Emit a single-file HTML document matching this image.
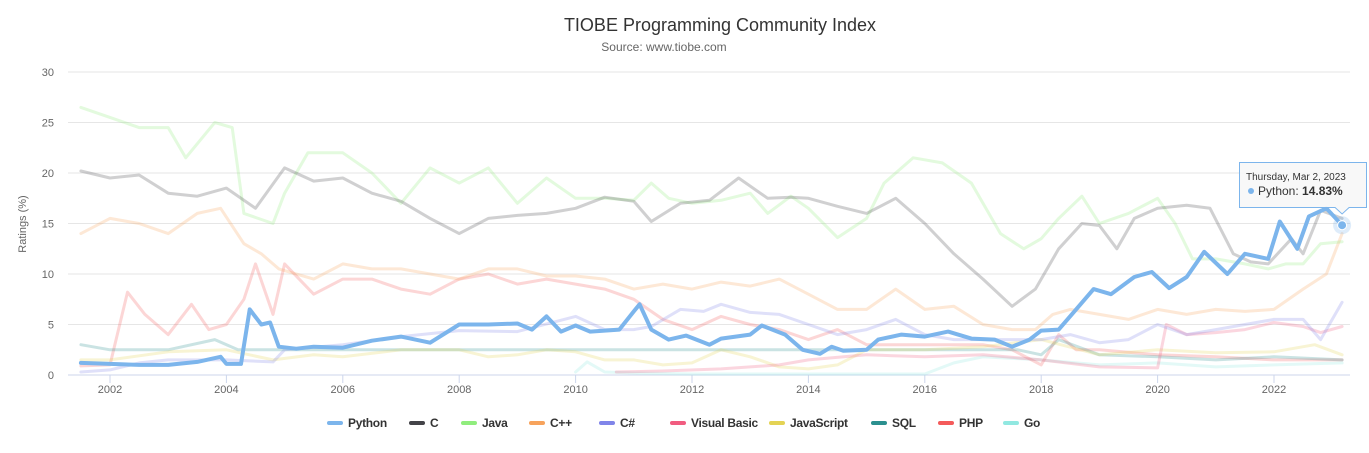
<!DOCTYPE html>
<html><head><meta charset="utf-8"><style>
body{margin:0;background:#fff;font-family:"Liberation Sans",sans-serif}
svg text{font-family:"Liberation Sans",sans-serif}
</style></head><body>
<svg id="chart" width="1369" height="448" viewBox="0 0 1369 448" xmlns="http://www.w3.org/2000/svg">
<rect width="1369" height="448" fill="#fff"/>
<text x="720" y="31" text-anchor="middle" font-size="18" fill="#333">TIOBE Programming Community Index</text>
<text x="664" y="51" text-anchor="middle" font-size="12" fill="#666">Source: www.tiobe.com</text>
<text transform="translate(26,224) rotate(-90)" text-anchor="middle" font-size="11" fill="#666">Ratings (%)</text>
<g id="grid"></g><g id="series"></g><g id="legend"></g>
</svg>
<script>
const yTicks=[0,5,10,15,20,25,30];
const xTicks=[2002,2004,2006,2008,2010,2012,2014,2016,2018,2020,2022];
const names=["Python","C","Java","C++","C#","Visual Basic","JavaScript","SQL","PHP","Go"];
const colors=["#7cb5ec","#434348","#90ed7d","#f7a35c","#8085e9","#f15c80","#e4d354","#2b908f","#f45b5b","#91e8e1"];
const pyX=[2001.5,2002,2002.5,2003,2003.5,2003.9,2004.0,2004.25,2004.4,2004.6,2004.75,2004.9,2005.2,2005.5,2006,2006.5,2007,2007.5,2008,2008.5,2009,2009.25,2009.5,2009.75,2010,2010.25,2010.75,2011,2011.1,2011.3,2011.6,2011.9,2012.3,2012.5,2013,2013.2,2013.6,2013.9,2014.2,2014.4,2014.6,2015,2015.2,2015.6,2016,2016.4,2016.8,2017.2,2017.5,2017.8,2018,2018.3,2018.6,2018.9,2019.2,2019.6,2019.9,2020.2,2020.5,2020.8,2021.2,2021.5,2021.9,2022.1,2022.4,2022.6,2022.9,2023.17];
const pyY=[1.2,1.1,1.0,1.0,1.3,1.8,1.1,1.1,6.5,5.0,5.2,2.8,2.6,2.8,2.7,3.4,3.8,3.2,5.0,5.0,5.1,4.5,5.8,4.3,4.9,4.3,4.5,6.3,7.0,4.5,3.5,3.9,3.0,3.6,4.0,4.9,4.0,2.5,2.1,2.8,2.4,2.5,3.5,4.0,3.8,4.3,3.6,3.5,2.8,3.5,4.4,4.5,6.5,8.5,8.0,9.7,10.2,8.6,9.7,12.2,10.0,12.0,11.5,15.2,12.5,15.7,16.5,14.83];
const cX=[2001.5,2002,2002.5,2003,2003.5,2004,2004.5,2005,2005.5,2006,2006.5,2007,2007.5,2008,2008.5,2009,2009.5,2010,2010.5,2011,2011.3,2011.8,2012.3,2012.8,2013.3,2013.7,2014,2014.5,2015,2015.5,2016,2016.5,2017,2017.5,2017.9,2018.3,2018.7,2019,2019.3,2019.6,2020,2020.5,2020.9,2021.3,2021.6,2021.9,2022.3,2022.5,2022.8,2023.17];
const cY=[20.2,19.5,19.8,18,17.7,18.5,16.5,20.5,19.2,19.5,18,17.2,15.5,14,15.5,15.8,16,16.5,17.6,17.2,15.2,17,17.3,19.5,17.5,17.6,17.5,16.7,16,17.5,15,12,9.5,6.8,8.5,12.5,15,14.8,12.5,15.5,16.5,16.8,16.5,12,11.2,11.0,13.5,12,16.3,15.5];
const javaX=[2001.5,2002,2002.5,2003,2003.3,2003.8,2004.1,2004.3,2004.8,2005,2005.4,2006,2006.5,2007,2007.5,2008,2008.5,2009,2009.5,2010,2010.5,2011,2011.3,2011.6,2012,2012.5,2013,2013.3,2013.7,2014,2014.5,2015,2015.3,2015.8,2016.3,2016.8,2017.3,2017.7,2018,2018.3,2018.7,2019,2019.5,2020,2020.3,2020.6,2021,2021.5,2021.9,2022.2,2022.5,2022.8,2023.17];
const javaY=[26.5,25.5,24.5,24.5,21.5,25,24.5,16,15,18,22,22,20,17,20.5,19,20.5,17.0,19.5,17.5,17.5,17.3,19,17.5,17,17.3,18,16,17.7,16.5,13.6,15.5,19,21.5,21,19,14,12.5,13.5,15.5,17.7,15.0,16,17.5,15,11.5,11.5,11,10.5,11,11,13,13.2];
const cppX=[2001.5,2002,2002.5,2003,2003.5,2003.9,2004.3,2004.6,2004.9,2005.5,2006,2006.5,2007,2007.5,2008,2008.5,2009,2009.5,2010,2010.5,2011,2011.5,2012,2012.5,2013,2013.5,2014,2014.5,2015,2015.5,2016,2016.5,2017,2017.5,2017.9,2018.2,2018.5,2019,2019.5,2020,2020.5,2021,2021.5,2022,2022.5,2022.9,2023.17];
const cppY=[14,15.5,15,14,16,16.5,13,12,10.5,9.5,11,10.5,10.5,10,9.5,10.5,10.5,9.8,9.8,9.5,8.5,9,8.5,9.2,8.8,9.5,8.0,6.5,6.5,8.5,6.5,6.8,5,4.5,4.5,6,6.5,6,5.5,6.5,6.0,6.5,6.3,6.5,8.5,10,14];
const csX=[2001.5,2002,2002.5,2003,2004,2004.8,2005,2006,2007,2008,2009,2010,2010.5,2011,2011.3,2011.8,2012.2,2012.5,2013,2013.5,2014,2014.5,2015,2015.5,2016,2016.5,2017,2017.5,2018,2018.5,2019,2019.5,2020,2020.5,2021,2021.5,2022,2022.5,2022.8,2023.17];
const csY=[0.3,0.5,1.2,1.5,1.5,1.3,2.5,3,3.8,4.4,4.3,5.8,4.5,4.5,4.8,6.5,6.3,7.0,6.2,6.0,5.0,4.0,4.5,5.5,4.0,3.5,3.5,3.5,3.5,4.0,3.2,3.5,5.0,4.0,4.5,5.0,5.5,5.5,3.5,7.2];
const vbX=[2010.7,2011.5,2012.5,2013.5,2014,2015,2016,2017,2018,2019,2020,2020.15,2020.5,2021,2021.5,2022,2022.5,2022.8,2023.17];
const vbY=[0.3,0.4,0.6,1.0,1.5,2,1.8,2.0,1.5,0.8,0.7,5.0,4,4.2,4.5,5.2,4.8,4.2,4.8];
const jsX=[2001.5,2002,2003,2004,2004.8,2005.5,2006,2007,2008,2008.5,2009,2009.5,2010,2010.5,2011,2011.5,2012,2012.5,2013,2013.5,2014,2014.5,2015,2016,2017,2018,2019,2020,2021,2022,2022.7,2023.17];
const jsY=[1.5,1.5,2.3,2.5,1.5,2.0,1.8,2.5,2.5,1.8,2.0,2.5,2.3,1.5,1.5,1.0,1.2,2.5,1.8,0.8,0.6,1.0,2.5,2.5,2.8,3.5,2.0,2.5,2.2,2.3,3.0,2.0];
const sqlX=[2001.5,2002,2003,2003.8,2004.2,2010,2017.6,2018,2018.3,2019,2020,2021,2022,2023.17];
const sqlY=[3.0,2.5,2.5,3.5,2.5,2.5,2.5,2.0,3.5,2.0,1.8,1.5,1.8,1.5];
const phpX=[2001.5,2002,2002.3,2002.6,2003,2003.4,2003.7,2004,2004.3,2004.5,2004.8,2005,2005.5,2006,2006.5,2007,2007.5,2008,2008.5,2009,2009.5,2010,2010.5,2011,2011.5,2012,2012.5,2013,2013.5,2014,2014.5,2015,2016,2017,2017.5,2018,2018.3,2018.6,2019,2020,2021,2022,2023.17];
const phpY=[0.9,1.0,8.2,6,4,7,4.5,5,7.5,11,6,11,8,9.5,9.5,8.5,8.0,9.5,10.0,9.0,9.5,9.0,8.5,7.5,5.5,4.5,5.8,5.0,4.5,3.5,4.5,3.0,3.0,3.0,2.5,1.0,4.0,2.5,2.5,2.0,1.8,1.5,1.5];
const goX=[2010,2010.2,2010.5,2011,2012,2014,2016,2016.5,2017,2018,2019,2020,2021,2022,2023.17];
const goY=[0.3,1.3,0.3,0.2,0.1,0.1,0.1,1.2,1.8,1.5,1.0,1.2,0.8,1.0,1.2];

const NS="http://www.w3.org/2000/svg";
const X0=68,X1=1350,Y0=375,Y1=72;
const xs=yr=>110+(yr-2002)*58.2;
const ys=v=>Y0-(v/30)*(Y0-Y1);
function mk(t,a,p){const e=document.createElementNS(NS,t);for(const k in a)e.setAttribute(k,a[k]);p.appendChild(e);return e;}
const grid=document.getElementById('grid');
yTicks.forEach(v=>{
  const l=mk('line',{x1:X0,x2:X1,y1:ys(v),y2:ys(v),stroke:v===0?'#ccd6eb':'#e6e6e6','stroke-width':1},grid);
  
  
  const t=mk('text',{x:54,y:ys(v)+4,'text-anchor':'end','font-size':11,fill:'#666'},grid);t.textContent=v;
  
  
});
xTicks.forEach(yr=>{
  const l=mk('line',{x1:xs(yr),x2:xs(yr),y1:Y0,y2:Y0+8,stroke:'#ccd6eb'},grid);
  
  
  const t=mk('text',{x:xs(yr),y:Y0+18,'text-anchor':'middle','font-size':11,fill:'#666'},grid);t.textContent=yr;
  
  
});
const data=[[pyX,pyY],[cX,cY],[javaX,javaY],[cppX,cppY],[csX,csY],[vbX,vbY],[jsX,jsY],[sqlX,sqlY],[phpX,phpY],[goX,goY]];
const sg=document.getElementById('series');
const order=[9,8,7,6,5,4,3,2,1,0];
order.forEach(i=>{
  const [dx,dy]=data[i];
  const d=dx.map((x,j)=>(j?'L':'M')+xs(x).toFixed(1)+','+ys(dy[j]).toFixed(1)).join(' ');
  const p=mk('path',{d:d,fill:'none',stroke:colors[i],'stroke-width':i===0?4:3,'stroke-linejoin':'round','stroke-linecap':'round',opacity:i===0?1:0.25},sg);
  
  
});
const lx=xs(pyX[pyX.length-1]),ly=ys(pyY[pyY.length-1]);
const halo=mk('circle',{cx:lx,cy:ly,r:9,fill:'#7cb5ec',opacity:0.25},sg);


const dot=mk('circle',{cx:lx,cy:ly,r:4.5,fill:'#7cb5ec',stroke:'#fff','stroke-width':1},sg);


const tg=mk('g',{},sg);


mk('path',{d:`M1239.5,162.5 H1366.5 V207.5 H${lx+7} L${lx},214 L${lx-7},207.5 H1239.5 Z`,fill:'#f7f7f7','fill-opacity':0.9,stroke:'#7cb5ec','stroke-width':1},tg);
const t1=mk('text',{x:1246,y:180,'font-size':10,fill:'#333'},tg);t1.textContent='Thursday, Mar 2, 2023';
mk('circle',{cx:1251,cy:191,r:3,fill:'#7cb5ec'},tg);
const t2=mk('text',{x:1258,y:195,'font-size':12,fill:'#333'},tg);
t2.innerHTML='Python: <tspan font-weight="bold">14.83%</tspan>';
const lg=document.getElementById('legend');
const lpos=[327,409,461,529,599,670,769,871,938,1003];
names.forEach((n,i)=>{
  const g=mk('g',{},lg);
  
  
  mk('line',{x1:lpos[i]+2,x2:lpos[i]+14,y1:423,y2:423,stroke:colors[i],'stroke-width':4,'stroke-linecap':'round'},g);
  const t=mk('text',{x:lpos[i]+21,y:427,'font-size':12,'font-weight':'bold',fill:'#333','letter-spacing':'-0.3'},g);t.textContent=n;
});
</script>
</body></html>
